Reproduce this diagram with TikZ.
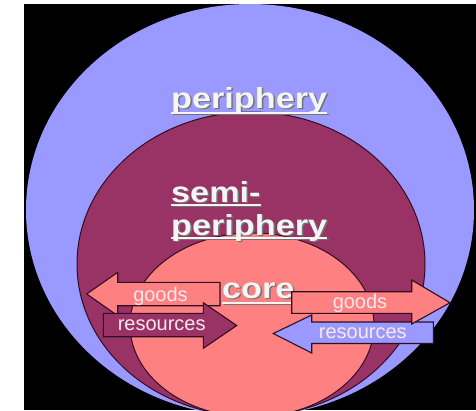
\documentclass[tikz,border=0pt]{standalone}
\usepackage{fontspec}
\setmainfont{Liberation Sans}
\definecolor{peri}{HTML}{9999FF}
\definecolor{semiC}{HTML}{993366}
\definecolor{coreC}{HTML}{FF8080}
\definecolor{edgeC}{HTML}{2E0E22}
\definecolor{lbl}{HTML}{FCE8EC}
\newcommand{\stretchtxt}[1]{\scalebox{1.18}[1]{#1}}
\tikzset{
  big/.style={inner sep=0pt, anchor=base west, text=white!96!black,
    font=\fontsize{29}{29}\selectfont\bfseries},
  bigshadow/.style={big, text=black!55},
  uline/.style={draw=white!96!black, line width=1.8pt},
  ushadow/.style={draw=black!55, line width=1.8pt},
  arrowshape/.style={draw=edgeC, line width=1.1pt, line join=miter},
  small/.style={inner sep=0pt, anchor=base, text=lbl,
    font=\fontsize{20}{20}\selectfont}
}
\begin{document}
\begin{tikzpicture}[x=1pt,y=-1pt]
\useasboundingbox (0,0) rectangle (476,410);
\fill[white] (0,0) rectangle (476,410);
\fill[black] (24,4) rectangle (476,410);
\begin{scope}
  \clip (24,4) rectangle (476,410);
  \fill[peri] (250,210) ellipse [x radius=224pt, y radius=206pt];
  \filldraw[fill=semiC, draw=edgeC, line width=1pt] (251,264) ellipse [x radius=174pt, y radius=152pt];
  \filldraw[fill=coreC, draw=edgeC, line width=1pt] (252,325) ellipse [x radius=122pt, y radius=92pt];
\end{scope}

% big labels with shadows
\node[bigshadow] (p1s) at (172.5,109.5) {\stretchtxt{periphery}};
\node[bigshadow] (s1s) at (172.5,203.5) {\stretchtxt{semi-}};
\node[bigshadow] (s2s) at (172.5,236.5) {\stretchtxt{periphery}};
\node[bigshadow] (c1s) at (223.5,299.5) {\stretchtxt{core}};
\draw[ushadow] ([yshift=-5pt]p1s.base west) -- ([yshift=-5pt]p1s.base east);
\draw[ushadow] ([yshift=-3pt]s1s.base west) -- ([yshift=-3pt]s1s.base east);
\draw[ushadow] ([yshift=-3pt]s2s.base west) -- ([yshift=-3pt]s2s.base east);
\draw[ushadow] ([yshift=-5pt]c1s.base west) -- ([yshift=-5pt]c1s.base east);

\node[big] (p1) at (171,108) {\stretchtxt{periphery}};
\node[big] (s1) at (171,202) {\stretchtxt{semi-}};
\node[big] (s2) at (171,235) {\stretchtxt{periphery}};
\node[big] (c1) at (222,298) {\stretchtxt{core}};
\draw[uline] ([yshift=-5pt]p1.base west) -- ([yshift=-5pt]p1.base east);
\draw[uline] ([yshift=-3pt]s1.base west) -- ([yshift=-3pt]s1.base east);
\draw[uline] ([yshift=-3pt]s2.base west) -- ([yshift=-3pt]s2.base east);
\draw[uline] ([yshift=-5pt]c1.base west) -- ([yshift=-5pt]c1.base east);

% arrows
\filldraw[arrowshape, fill=coreC] (220,282.3) -- (117.7,282.3) -- (117.7,272.3) -- (86.7,294)
  -- (117.7,315.7) -- (117.7,305.7) -- (220,305.7) -- cycle;
\filldraw[arrowshape, fill=semiC] (103.3,313.3) -- (203.3,313.3) -- (203.3,302.7) -- (236.7,325.5)
  -- (203.3,348.3) -- (203.3,336.7) -- (103.3,336.7) -- cycle;
\filldraw[arrowshape, fill=peri] (433.3,322) -- (311.7,322) -- (311.7,315) -- (273.3,333.5)
  -- (311.7,353) -- (311.7,343.5) -- (433.3,343.5) -- cycle;
\filldraw[arrowshape, fill=coreC] (291.7,291.7) -- (411.7,291.7) -- (411.7,280) -- (450,302.7)
  -- (411.7,324) -- (411.7,313.3) -- (291.7,313.3) -- cycle;

\node[small] (g1) at (160.5,301.7) {goods};
\node[small] (r1) at (161.7,330.7) {resources};
\node[small] (g2) at (360,308.3) {goods};
\node[small] (r2) at (362.8,338.3) {resources};
\end{tikzpicture}
\end{document}
